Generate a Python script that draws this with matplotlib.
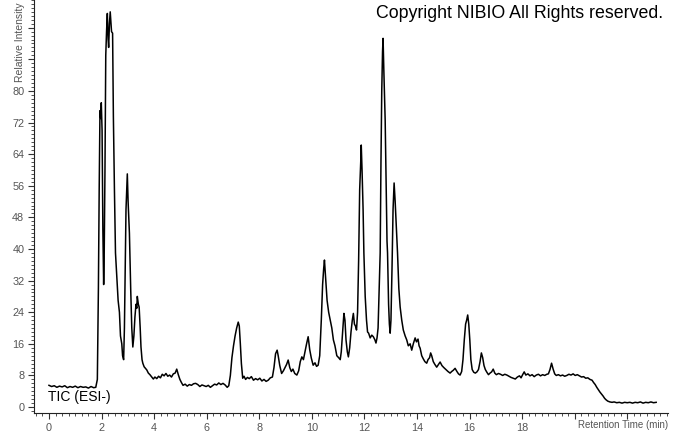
import matplotlib
matplotlib.use('Agg')
import matplotlib.pyplot as plt
from matplotlib.ticker import MultipleLocator, FixedLocator

plt.rcParams['font.family'] = ['Liberation Sans', 'DejaVu Sans']

# retention time (min) and relative intensity
rt = [
    0.00, 0.10, 0.20, 0.30, 0.40, 0.50, 0.60, 0.70, 0.80, 0.90,
    1.00, 1.10, 1.20, 1.30, 1.40, 1.50, 1.60, 1.70, 1.78, 1.84,
    1.88, 1.91, 1.94, 1.97, 1.99, 2.02, 2.05, 2.08, 2.10, 2.13,
    2.16, 2.19, 2.22, 2.25, 2.27, 2.30, 2.33, 2.35, 2.38, 2.42,
    2.45, 2.49, 2.53, 2.58, 2.63, 2.68, 2.72, 2.77, 2.80, 2.84,
    2.87, 2.90, 2.93, 2.96, 2.98, 3.01, 3.06, 3.11, 3.15, 3.19,
    3.23, 3.27, 3.31, 3.34, 3.36, 3.40, 3.43, 3.47, 3.50, 3.54,
    3.57, 3.62, 3.67, 3.72, 3.78, 3.84, 3.91, 3.97, 4.03, 4.10,
    4.17, 4.24, 4.31, 4.38, 4.45, 4.52, 4.59, 4.66, 4.73, 4.80,
    4.86, 4.92, 4.98, 5.04, 5.10, 5.18, 5.26, 5.34, 5.42, 5.50,
    5.58, 5.66, 5.74, 5.82, 5.90, 5.98, 6.06, 6.14, 6.22, 6.30,
    6.38, 6.46, 6.54, 6.62, 6.70, 6.78, 6.84, 6.90, 6.96, 7.02,
    7.08, 7.14, 7.20, 7.24, 7.28, 7.32, 7.37, 7.42, 7.48, 7.55,
    7.62, 7.70, 7.78, 7.86, 7.94, 8.02, 8.10, 8.18, 8.26, 8.34,
    8.42, 8.50, 8.56, 8.62, 8.68, 8.72, 8.78, 8.85, 8.92, 8.98,
    9.04, 9.10, 9.16, 9.22, 9.28, 9.35, 9.43, 9.50, 9.56, 9.62,
    9.68, 9.74, 9.80, 9.86, 9.92, 9.98, 10.05, 10.12, 10.18, 10.24,
    10.30, 10.36, 10.41, 10.45, 10.48, 10.52, 10.58, 10.64, 10.70, 10.76,
    10.82, 10.88, 10.95, 11.02, 11.08, 11.12, 11.17, 11.22, 11.26, 11.30,
    11.35, 11.39, 11.44, 11.49, 11.54, 11.58, 11.62, 11.66, 11.70, 11.74,
    11.78, 11.82, 11.86, 11.88, 11.91, 11.95, 11.98, 12.03, 12.08, 12.12,
    12.16, 12.22, 12.28, 12.34, 12.40, 12.44, 12.48, 12.52, 12.56, 12.60,
    12.63, 12.66, 12.69, 12.71, 12.74, 12.77, 12.79, 12.83, 12.86, 12.88,
    12.92, 12.95, 12.98, 13.01, 13.05, 13.09, 13.13, 13.17, 13.22, 13.26,
    13.31, 13.36, 13.42, 13.48, 13.55, 13.61, 13.67, 13.74, 13.80, 13.86,
    13.93, 13.98, 14.04, 14.08, 14.12, 14.18, 14.24, 14.30, 14.37, 14.42,
    14.48, 14.52, 14.56, 14.62, 14.68, 14.75, 14.82, 14.88, 14.95, 15.02,
    15.10, 15.18, 15.26, 15.32, 15.38, 15.45, 15.52, 15.58, 15.64, 15.70,
    15.75, 15.80, 15.85, 15.89, 15.93, 15.97, 16.01, 16.05, 16.10, 16.16,
    16.22, 16.28, 16.34, 16.40, 16.45, 16.50, 16.55, 16.60, 16.66, 16.72,
    16.78, 16.84, 16.90, 16.96, 17.02, 17.10, 17.18, 17.26, 17.34, 17.42,
    17.50, 17.58, 17.66, 17.74, 17.82, 17.90, 17.96, 18.02, 18.08, 18.14,
    18.22, 18.30, 18.38, 18.46, 18.54, 18.62, 18.70, 18.78, 18.86, 18.94,
    19.00, 19.06, 19.12, 19.18, 19.24, 19.30, 19.38, 19.46, 19.54, 19.62,
    19.70, 19.78, 19.86, 19.94, 20.02, 20.10, 20.18, 20.26, 20.34, 20.42,
    20.50, 20.58, 20.66, 20.72, 20.78, 20.84, 20.90, 20.96, 21.02, 21.08,
    21.14, 21.20, 21.26, 21.34, 21.42, 21.50, 21.60, 21.70, 21.80, 21.90,
    22.00, 22.10, 22.20, 22.30, 22.40, 22.50, 22.60, 22.70, 22.80, 22.90,
    23.00, 23.10,
]
rel = [
    5.5, 5.2, 5.4, 5.0, 5.3, 5.1, 5.4, 4.9, 5.2, 5.0,
    5.3, 4.9, 5.2, 5.0, 5.1, 4.8, 5.2, 4.9, 5.0, 7.0,
    30, 55, 75, 73, 77, 70, 45, 31, 38, 60,
    89, 95, 99.6, 93, 91, 97, 100, 98, 95, 94.6,
    73.5, 55, 39, 33, 27, 24, 18, 16, 13, 12,
    20, 35.5, 50, 55, 59, 52, 44, 29.6, 20, 15.2,
    18, 22.8, 26, 25, 28, 26, 25.3, 20, 15.2, 12,
    11.1, 10.2, 9.8, 9.4, 8.6, 8.2, 7.6, 7.1, 7.6, 7.2,
    7.8, 7.4, 8.3, 7.9, 8.5, 7.8, 8.1, 7.6, 8.4, 8.6,
    9.6, 8.2, 7.0, 6.2, 5.5, 5.8, 5.3, 5.7, 5.5, 5.9,
    6.0, 5.7, 5.2, 5.6, 5.4, 5.2, 5.5, 5.0, 5.4, 5.8,
    5.6, 6.1, 5.7, 6.0, 5.6, 5.0, 5.4, 8.0, 12.5, 15.5,
    18, 20, 21.5, 20.5, 16, 11, 7.3, 7.8, 7.0, 7.5,
    7.2, 7.7, 6.8, 7.2, 6.9, 7.3, 6.6, 7.0, 6.5, 6.8,
    7.4, 7.6, 10, 13.5, 14.4, 13, 10.5, 8.5, 9.2, 10,
    10.8, 11.9, 10, 9, 9.6, 8.5, 8.1, 9.2, 11.5, 12.7,
    12, 14, 16, 17.8, 14.5, 12.4, 10.6, 11.2, 10.3, 10.6,
    13, 22, 31, 35, 37.2, 33, 27, 24, 22, 20,
    17, 15.5, 13, 12.5, 12, 14, 19, 23.7, 22, 17,
    14, 12.7, 15, 19, 22, 23.7, 21, 20.5, 19.5, 24,
    37, 55, 62, 66.3, 60, 50, 39, 28, 22, 19,
    18.7, 17.5, 18.2, 17.8, 17, 16.2, 17.5, 20, 30, 39,
    62, 80, 90, 93.3, 85, 78, 72.6, 55, 42, 39,
    26, 21, 18.7, 22, 35, 50, 56.7, 52, 45, 39,
    30, 25.3, 22, 19.5, 18, 17, 15.5, 16, 14.4, 16,
    17.5, 16.5, 17.2, 15.5, 14.9, 13, 12.2, 11.5, 11.1, 12,
    12.5, 13.7, 13, 11.5, 10.8, 10.1, 10.8, 11.4, 10.5, 10,
    9.5, 9, 8.6, 9, 9.3, 9.8, 9, 8.4, 8.1, 9,
    12, 17, 21, 22, 23.3, 21, 17, 12, 9.5, 8.8,
    8.6, 8.9, 9.5, 11.5, 13.7, 12.5, 10.5, 9.5, 8.8, 8.2,
    8.6, 8.9, 9.6, 8.6, 8.2, 8.5, 8.3, 8.0, 8.3, 8.1,
    7.8, 7.5, 7.3, 7.1, 7.6, 7.9, 7.4, 8.2, 8.9, 8.1,
    8.4, 7.9, 8.2, 7.7, 8.1, 8.3, 7.9, 8.2, 8.0, 8.3,
    8.4, 9.5, 11.1, 9.6, 8.4, 8.0, 8.2, 7.9, 8.1, 7.8,
    8.0, 8.3, 8.1, 8.4, 8.0, 8.2, 7.9, 7.6, 7.7, 7.3,
    7.4, 7.0, 6.8, 6.2, 5.7, 5.0, 4.4, 3.8, 3.3, 2.8,
    2.2, 1.8, 1.5, 1.3, 1.2, 1.3, 1.1, 1.2, 1.0, 1.2,
    1.1, 1.2, 1.0, 1.2, 1.1, 1.3, 1.0, 1.2, 1.1, 1.3,
    1.1, 1.2,
]
assert len(rt) == len(rel)

x_labels = ['0', '2', '4', '6', '8', '10', '12', '14', '16', '18', '', '']
y_labels = ['0', '8', '16', '24', '32', '40', '48', '56', '64', '72', '80', '', '']

grey = '#555555'

fig = plt.figure(figsize=(6.73, 4.33), dpi=100)
ax = fig.add_axes([34 / 673, 20 / 433, 634 / 673, 413 / 433])
ax.plot(rt, rel, color='black', lw=1.1)

ax.set_xlim(-0.57, 23.55)
ax.set_ylim(-1.5, 103)

ax.spines['top'].set_visible(False)
ax.spines['right'].set_visible(False)
ax.spines['left'].set_color('#222222')
ax.spines['bottom'].set_color('#222222')

ax.xaxis.set_major_locator(FixedLocator(list(range(0, 24, 2))))
ax.set_xticklabels(x_labels)
ax.xaxis.set_minor_locator(MultipleLocator(0.25))
ax.yaxis.set_major_locator(FixedLocator(list(range(0, 104, 8))))
ax.set_yticklabels(y_labels)
ax.yaxis.set_minor_locator(MultipleLocator(1))

ax.tick_params(which='major', direction='out', length=4, width=0.8,
               color='#333333', labelcolor=grey, labelsize=7.8, pad=3)
ax.tick_params(which='minor', direction='out', length=2, width=0.6,
               color='#333333')

fig.text(376 / 673, 1 - 14 / 433, 'Copyright NIBIO All Rights reserved.',
         fontsize=12.8, color='black', ha='left', va='center')
ax.text(-0.05, 2.5, 'TIC (ESI-)', fontsize=10, color='black',
        ha='left', va='center')
fig.text(668 / 673, 1 - 425 / 433, 'Retention Time (min)', fontsize=7,
         color=grey, ha='right', va='center')
fig.text(20 / 673, 1 - 82 / 433, 'Relative Intensity', fontsize=7.5,
         color=grey, rotation=90, ha='center', va='bottom')

fig.savefig('out.png', dpi=100)
